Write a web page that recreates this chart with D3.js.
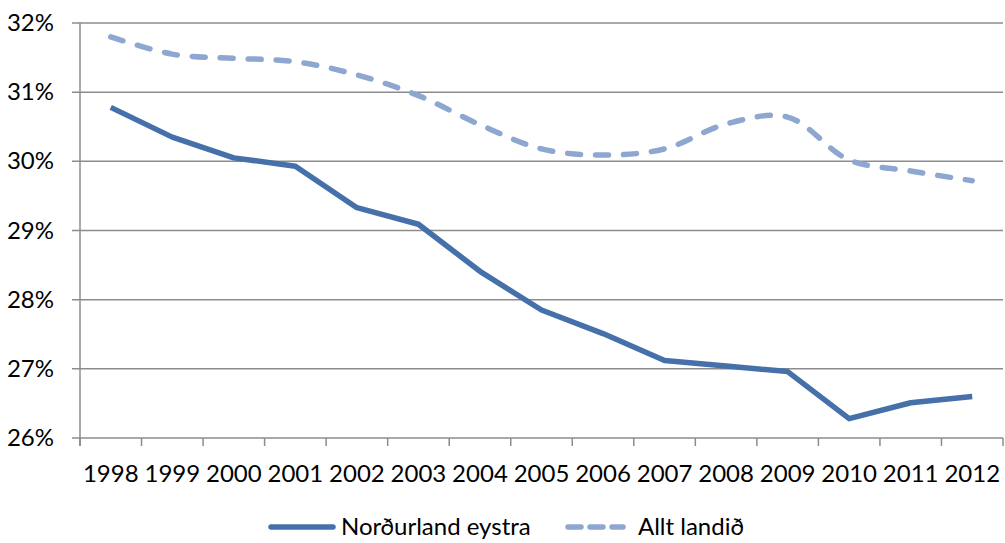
<!DOCTYPE html>
<html><head><meta charset="utf-8">
<script src="https://cdn.jsdelivr.net/npm/d3@7"></script>
<style>body{margin:0;background:#fff}text{font-family:Lato,"Open Sans",sans-serif;fill:#000}</style>
</head><body><svg id="c" width="1005" height="543"></svg>
<script>
const years = ["1998","1999","2000","2001","2002","2003","2004","2005","2006","2007","2008","2009","2010","2011","2012"];
const nordurland = [30.78,30.35,30.05,29.93,29.33,29.09,28.41,27.85,27.51,27.12,27.04,26.96,26.28,26.51,26.60];
const alltLandid = [31.80,31.55,31.49,31.44,31.25,30.95,30.53,30.18,30.09,30.18,30.54,30.64,30.02,29.86,29.72];
const yTicks = [26,27,28,29,30,31,32];
const seriesNames = ["Norðurland eystra","Allt landið"];

const svg = d3.select("#c");
const L=80, R=1003, T=23, B=438;
const x = d3.scaleBand().domain(years).range([L,R]);
const y = d3.scaleLinear().domain([26,32]).range([B,T]);
const grid="#8c8c8c";
const fs="24px";

svg.append("g").selectAll("line").data(yTicks.slice(1)).join("line")
  .attr("x1",L-8).attr("x2",R).attr("y1",d=>y(d)).attr("y2",d=>y(d))
  .attr("stroke",grid).attr("stroke-width",1.5);

const xa = svg.append("g").attr("transform",`translate(0,${B})`)
  .call(d3.axisBottom(x).tickSize(0).tickPadding(0));
xa.select(".domain").remove();
xa.selectAll("text").attr("dy",null).attr("y",44).style("font-size",fs).attr("font-family","Lato");
svg.append("g").selectAll("line").data(years.concat(["end"])).join("line")
  .attr("x1",(d,i)=>L+i*x.bandwidth()).attr("x2",(d,i)=>L+i*x.bandwidth())
  .attr("y1",B).attr("y2",B+8).attr("stroke",grid).attr("stroke-width",1.5);
svg.append("line").attr("x1",L-8).attr("x2",R).attr("y1",B).attr("y2",B).attr("stroke",grid).attr("stroke-width",1.5);
svg.append("line").attr("x1",L).attr("x2",L).attr("y1",T).attr("y2",B+8).attr("stroke",grid).attr("stroke-width",1.5);

svg.append("g").selectAll("text").data(yTicks).join("text")
  .attr("x",54).attr("y",d=>y(d)+8).attr("text-anchor","end")
  .style("font-size",fs).text(d=>d+"%");

const cx = d=>x(d)+x.bandwidth()/2;
const lineSolid = d3.line().x((d,i)=>cx(years[i])).y(d=>y(d));
const lineSmooth = d3.line().x((d,i)=>cx(years[i])).y(d=>y(d)).curve(d3.curveCatmullRom.alpha(0.5));
svg.append("path").attr("d",lineSmooth(alltLandid)).attr("fill","none")
  .attr("stroke","#8da7d0").attr("stroke-width",5.5).attr("stroke-linecap","round").attr("stroke-dasharray","13,15");
svg.append("path").attr("d",lineSolid(nordurland)).attr("fill","none")
  .attr("stroke","#4670a9").attr("stroke-width",5.5).attr("stroke-linejoin","round");

const lg = svg.append("g");
lg.append("line").attr("x1",271).attr("x2",333).attr("y1",527).attr("y2",527)
  .attr("stroke","#4670a9").attr("stroke-width",5.5).attr("stroke-linecap","round");
lg.append("text").attr("x",341).attr("y",535).style("font-size",fs).text(seriesNames[0]);
lg.append("line").attr("x1",568).attr("x2",623).attr("y1",527).attr("y2",527)
  .attr("stroke","#8da7d0").attr("stroke-width",5.5).attr("stroke-linecap","round").attr("stroke-dasharray","13,9");
lg.append("text").attr("x",638).attr("y",535).style("font-size",fs).text(seriesNames[1]);
</script></body></html>
